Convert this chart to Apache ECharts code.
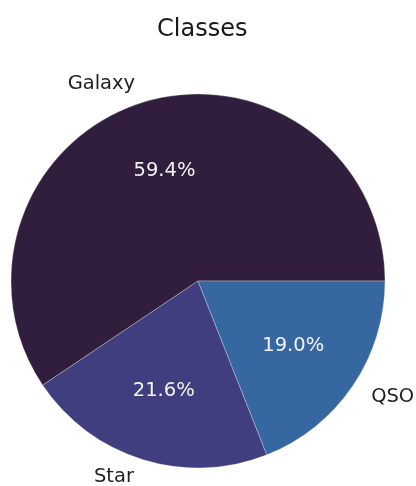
<!DOCTYPE html>
<html>
<head>
<meta charset="utf-8">
<script src="https://cdn.jsdelivr.net/npm/echarts@6/dist/echarts.min.js"></script>
<style>
  html, body { margin: 0; padding: 0; background: #ffffff; }
  #chart { width: 416px; height: 486px; }
</style>
</head>
<body>
<div id="chart"></div>
<script>
// Class shares (percent of objects)
const classNames = ['Galaxy', 'Star', 'QSO'];
const classShares = [59.4, 21.6, 19.0];
const classColors = ['#301e3c', '#413e7f', '#3767a1'];

const R = 187;                 // pie radius in px
const CENTER = [198, 281];
const FONT = 'DejaVu Sans';

const chart = echarts.init(document.getElementById('chart'), null, { renderer: 'canvas' });

const pieData = classNames.map((name, i) => ({
  name: name,
  value: classShares[i],
  itemStyle: { color: classColors[i] }
}));

chart.setOption({
  animation: false,
  backgroundColor: '#ffffff',
  title: {
    text: 'Classes',
    left: 152,
    top: 13,
    textStyle: { fontFamily: FONT, fontSize: 24, fontWeight: 'normal', color: '#1a1a1a' }
  },
  series: [
    {
      // wedges with their category names placed just outside the rim
      type: 'pie',
      center: CENTER,
      radius: [0, R],
      startAngle: 0,
      clockwise: false,
      avoidLabelOverlap: false,
      silent: true,
      itemStyle: { borderColor: 'rgba(255,255,255,0.45)', borderWidth: 0.6 },
      label: {
        show: true,
        position: 'outside',
        formatter: '{b}',
        distanceToLabelLine: 3,
        fontFamily: FONT,
        fontSize: 19.5,
        color: '#1f1f1f'
      },
      labelLine: { show: false, length: R * 0.1, length2: 0 },
      emphasis: { disabled: true },
      data: pieData
    },
    {
      // transparent twin whose inside labels land at 0.6 of the radius
      type: 'pie',
      center: CENTER,
      radius: [0, R * 1.2],
      startAngle: 0,
      clockwise: false,
      avoidLabelOverlap: false,
      silent: true,
      itemStyle: { color: 'rgba(0,0,0,0)', borderWidth: 0 },
      label: {
        show: true,
        position: 'inside',
        formatter: p => p.value.toFixed(1) + '%',
        fontFamily: FONT,
        fontSize: 19.5,
        color: '#f2f2f2'
      },
      labelLine: { show: false },
      emphasis: { disabled: true },
      data: pieData.map(d => ({ name: d.name, value: d.value }))
    }
  ]
});
</script>
</body>
</html>
